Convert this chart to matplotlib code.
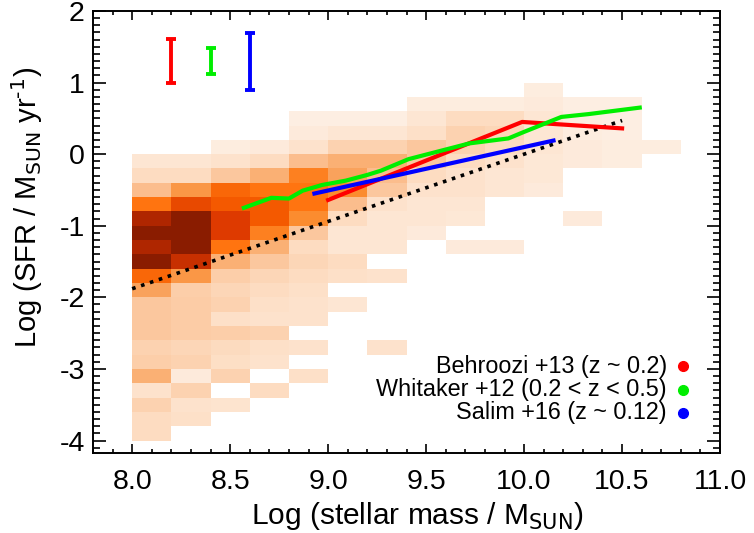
import numpy as np
import matplotlib
matplotlib.use('Agg')
import matplotlib.pyplot as plt
from matplotlib.colors import LinearSegmentedColormap
from matplotlib.ticker import MultipleLocator, FormatStrFormatter

plt.rcParams['font.family'] = ['Liberation Sans', 'DejaVu Sans']
plt.rcParams['axes.unicode_minus'] = False

# --- Dados ---
# bordas dos bins (massa e SFR)
x_edges = np.round(np.arange(8.0, 10.81, 0.2), 2)
y_edges = np.round(np.arange(-4.0, 1.01, 0.2), 2)

# densidade relativa (0-10), linhas de cima (0.8..1.0) para baixo (-4.0..-3.8)
density = [
    [0,   0,   0,   0,   0,   0,   0,   0,   0,   0,   0.7, 0,   0,   0],
    [0,   0,   0,   0,   0,   0,   0,   0.7, 0.7, 0.7, 0.8, 0.6, 0.6, 0],
    [0,   0,   0,   0,   0.6, 0.6, 0.6, 1.0, 1.5, 1.5, 1.0, 0.7, 0.6, 0],
    [0,   0,   0,   0,   0.8, 1.0, 1.0, 1.3, 2.0, 1.8, 1.0, 0.7, 0.6, 0],
    [0,   0,   0.7, 0.8, 1.2, 2.0, 2.0, 2.5, 2.0, 1.5, 1.0, 0.8, 0.7, 0.7],
    [1.0, 1.0, 1.2, 1.5, 3.0, 3.5, 3.5, 2.5, 1.5, 1.2, 0.9, 0.8, 0.7, 0],
    [1.5, 1.5, 2.5, 3.5, 5.5, 4.0, 3.0, 1.5, 1.2, 1.0, 0.9, 0,   0,   0],
    [3.0, 4.5, 6.5, 6.0, 6.0, 5.0, 2.5, 1.2, 1.2, 1.0, 0.8, 0,   0,   0],
    [6.0, 7.5, 7.0, 7.0, 6.0, 3.0, 1.2, 1.0, 1.0, 0,   0,   0,   0,   0],
    [9.0, 10., 8.0, 7.0, 5.0, 1.5, 1.0, 1.0, 0.9, 0,   0,   0.8, 0,   0],
    [10., 10., 8.0, 5.5, 2.5, 1.0, 1.0, 0.8, 0,   0,   0,   0,   0,   0],
    [9.0, 10., 6.0, 3.5, 1.5, 1.0, 1.0, 0,   0.8, 0.8, 0,   0,   0,   0],
    [10., 8.5, 3.5, 2.5, 1.8, 1.5, 0,   0,   0,   0,   0,   0,   0,   0],
    [6.5, 4.5, 2.2, 1.8, 1.5, 1.3, 1.2, 0,   0,   0,   0,   0,   0,   0],
    [4.0, 2.2, 1.8, 1.5, 1.3, 0,   0,   0,   0,   0,   0,   0,   0,   0],
    [2.5, 2.3, 2.0, 1.3, 1.2, 1.0, 0,   0,   0,   0,   0,   0,   0,   0],
    [2.5, 2.3, 1.3, 1.2, 1.2, 0,   0,   0,   0,   0,   0,   0,   0,   0],
    [2.5, 2.3, 2.2, 2.0, 0,   0,   0,   0,   0,   0,   0,   0,   0,   0],
    [2.0, 1.8, 1.6, 1.3, 1.2, 0,   1.2, 0,   0,   0,   0,   0,   0,   0],
    [2.2, 2.0, 1.4, 1.2, 0,   0,   0,   0,   0,   0,   0,   0,   0,   0],
    [3.5, 0.8, 2.0, 0,   1.3, 0,   0,   0,   0,   0,   0,   0,   0,   0],
    [1.2, 2.0, 0,   1.5, 0,   0,   0,   0,   0,   0,   0,   0,   0,   0],
    [2.0, 1.2, 1.1, 0,   0,   0,   0,   0,   0,   0,   0,   0,   0,   0],
    [1.5, 1.3, 0,   0,   0,   0,   0,   0,   0,   0,   0,   0,   0,   0],
    [1.5, 0,   0,   0,   0,   0,   0,   0,   0,   0,   0,   0,   0,   0],
]

# Behroozi +13
behroozi_x = [9.0, 9.99, 10.5]
behroozi_y = [-0.64, 0.45, 0.36]
# Whitaker +12
whitaker_x = [8.57, 8.71, 8.80, 8.87, 8.97, 9.09, 9.20, 9.27, 9.41, 9.72, 9.92, 9.99, 10.19, 10.33, 10.59]
whitaker_y = [-0.75, -0.61, -0.62, -0.51, -0.43, -0.37, -0.29, -0.23, -0.07, 0.15, 0.22, 0.30, 0.52, 0.56, 0.65]
# Salim +16
salim_x = [8.93, 10.15]
salim_y = [-0.55, 0.19]
# linha pontilhada
ms_x = [8.0, 10.5]
ms_y = [-1.88, 0.47]

# barras de erro (inicio / fim)
err_x = [8.2, 8.4, 8.6]
err_lo = [1.0, 1.12, 0.90]
err_hi = [1.61, 1.48, 1.69]

labels = ['Behroozi +13 (z ~ 0.2)', 'Whitaker +12 (0.2 < z < 0.5)', 'Salim +16 (z ~ 0.12)']
cores = ['#ff0000', '#00ee00', '#0000ff']

# --- Colormap ---
cmap = LinearSegmentedColormap.from_list('sfr', [
    (0.00, '#fff4ea'), (0.06, '#fdeee2'), (0.10, '#fde6d2'), (0.20, '#fcd2b0'),
    (0.30, '#fbbd8c'), (0.40, '#f9a25c'), (0.50, '#fb8c30'), (0.60, '#ff7410'),
    (0.70, '#f45a00'), (0.80, '#de3a00'), (0.90, '#b02600'), (1.00, '#8a1c00')])

fig = plt.figure(figsize=(7.54, 5.33), dpi=100)
ax = fig.add_axes([0.1233, 0.1507, 0.8317, 0.8287])

dens = np.flipud(np.array(density))
dens = np.ma.masked_equal(dens, 0)
ax.pcolormesh(x_edges, y_edges, dens, cmap=cmap, vmin=0, vmax=10, shading='flat')

ax.plot(ms_x, ms_y, color='black', linestyle=(0, (1, 1.6)), linewidth=2.6)
ax.plot(behroozi_x, behroozi_y, color=cores[0], linewidth=3)
ax.plot(whitaker_x, whitaker_y, color=cores[1], linewidth=3)
ax.plot(salim_x, salim_y, color=cores[2], linewidth=3)

for xe, lo, hi, c in zip(err_x, err_lo, err_hi, cores):
    mid = (lo + hi) / 2
    ax.errorbar(xe, mid, yerr=(hi - lo) / 2, color=c, elinewidth=2.8, capsize=3.5, capthick=2.8)

# legenda manual
for i, (lab, c) in enumerate(zip(labels, cores)):
    yy = 0.196 - 0.053 * i
    ax.text(0.915, yy, lab, transform=ax.transAxes, ha='right', va='center', fontsize=16.8)
    ax.plot(0.941, yy, 'o', color=c, markersize=7, transform=ax.transAxes)

ax.set_xlim(7.8, 11.0)
ax.set_ylim(-4.17, 2.0)
ax.xaxis.set_major_locator(MultipleLocator(0.5))
ax.xaxis.set_minor_locator(MultipleLocator(0.1))
ax.yaxis.set_major_locator(MultipleLocator(1))
ax.yaxis.set_minor_locator(MultipleLocator(0.1))
ax.xaxis.set_major_formatter(FormatStrFormatter('%.1f'))
ax.tick_params(which='both', direction='in', top=True, right=True, width=1.2)
ax.tick_params(axis='x', which='major', length=6.5, labelsize=20.5, pad=12)
ax.tick_params(axis='x', which='minor', length=3)
ax.tick_params(axis='y', which='major', length=9.5, labelsize=20.5, pad=6)
ax.tick_params(axis='y', which='minor', length=5)
for s in ax.spines.values():
    s.set_linewidth(1.4)

ax.set_xlabel(r'Log (stellar mass / M$_{\text{SUN}}$)', fontsize=21.5)
ax.set_ylabel(r'Log (SFR / M$_{\text{SUN}}$ yr$^{\text{-1}}$)', fontsize=21)
ax.xaxis.set_label_coords(0.518, -0.108)
ax.yaxis.set_label_coords(-0.077, 0.556)

fig.savefig('out.png', dpi=100)
